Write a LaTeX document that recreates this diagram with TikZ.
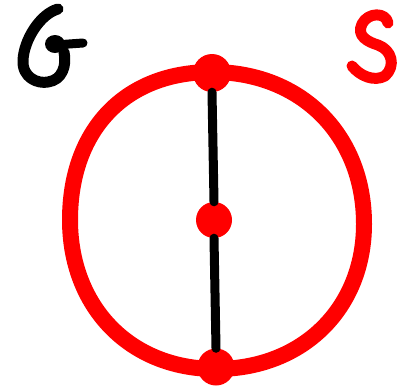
\documentclass[tikz,border=0pt]{standalone}
\begin{document}
\begin{tikzpicture}[x=1pt,y=-1pt,
  ring/.style={draw=red,line width=16pt,line join=round},
  edgeline/.style={draw=black,line width=9pt,line cap=round},
  dotnode/.style={circle,fill=red,inner sep=0pt,minimum size=38pt},
  glyph/.style={line width=11pt,line cap=round,line join=round}]
\useasboundingbox (0,0) rectangle (398,391);
% ring
\draw[ring] (212,72) .. controls (300,72) and (364,134) .. (364,224)
  .. controls (364,308) and (303,369) .. (216,369)
  .. controls (129,369) and (70,306) .. (70,220)
  .. controls (70,130) and (125,72) .. cycle;
% nodes
\node[dotnode] (t) at (212,73) {};
\node[dotnode,minimum size=36pt] (m) at (214,220) {};
\node[dotnode,minimum size=37pt] (b) at (216,367) {};
\draw[edgeline] (t.south) -- (m.north);
\draw[edgeline] (m.south) -- (b.north);
% G
\draw[glyph,black] (58,9) .. controls (40,14) and (24,40) .. (23,60) .. controls (22,78) and (38,84) .. (48,82) .. controls (62,80) and (67,66) .. (64,52);
\fill[black] (55,44) ellipse (10pt and 9pt);
\draw[glyph,black,line width=9pt] (55,45) -- (83,43);
% S
\draw[glyph,red] (388,23) .. controls (386,12) and (368,12) .. (362,24) .. controls (356,36) and (368,42) .. (378,45) .. controls (392,50) and (396,66) .. (385,76) .. controls (374,82) and (360,76) .. (352,66);
\end{tikzpicture}
\end{document}
